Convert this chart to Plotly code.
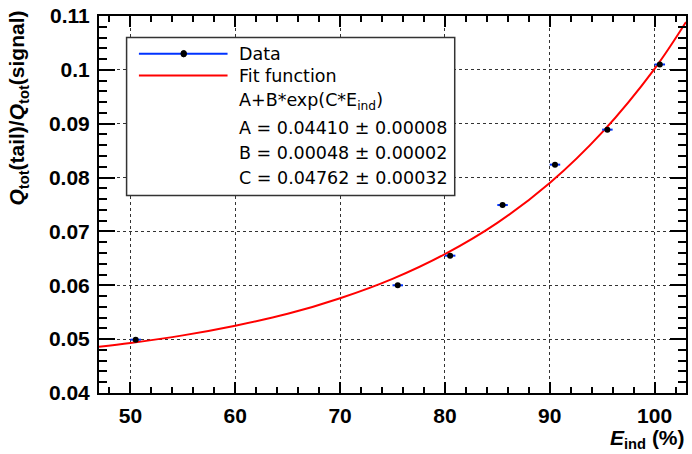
import plotly.graph_objects as go

# measured points
e_ind = [50.5, 75.5, 80.5, 85.5, 90.5, 95.5, 100.5]
ratio = [0.0499, 0.0600, 0.0655, 0.0749, 0.0824, 0.0889, 0.1010]
e_err = [0.5, 0.5, 0.5, 0.5, 0.5, 0.5, 0.5]
ratio_err = [0.0004, 0.0004, 0.0004, 0.0004, 0.0004, 0.0004, 0.0004]

# fit curve
fit_x = [47, 50, 55, 60, 65, 70, 75, 80, 85, 90, 95, 100, 103]
fit_y = [0.0486, 0.0493, 0.0507, 0.0525, 0.0547, 0.0576, 0.0612,
         0.0658, 0.0716, 0.0790, 0.0884, 0.1002, 0.1089]

legend_lines = [
    "A+B*exp(C*E<sub>ind</sub>)",
    "A = 0.04410 \u00b1 0.00008",
    "B = 0.00048 \u00b1 0.00002",
    "C = 0.04762 \u00b1 0.00032",
]

FONT = "Liberation Sans"
LEG_FONT = "DejaVu Sans"

fig = go.Figure()

fig.add_trace(go.Scatter(
    x=fit_x, y=fit_y, mode='lines', line=dict(color='#ff0000', width=2, shape='spline'),
    showlegend=False, hoverinfo='skip'))

fig.add_trace(go.Scatter(
    x=e_ind, y=ratio, mode='markers',
    marker=dict(color='black', size=6),
    error_x=dict(type='data', array=e_err, color='#0033ff', thickness=2, width=0),
    error_y=dict(type='data', array=ratio_err, color='black', thickness=2, width=0),
    showlegend=False))

# legend box drawn by hand (ROOT style)
fig.add_shape(type='rect', xref='paper', yref='paper', x0=0.047, x1=0.606, y0=0.524, y1=0.943,
              line=dict(color='#333333', width=1.5), fillcolor='white', layer='above')
fig.add_shape(type='line', xref='paper', yref='paper', x0=0.068, x1=0.219, y0=0.9, y1=0.9,
              line=dict(color='#0033ff', width=2), layer='above')
fig.add_shape(type='circle', xref='paper', yref='paper', x0=0.1395, x1=0.1491, y0=0.8915, y1=0.9085,
              line=dict(color='black', width=1), fillcolor='black', layer='above')
fig.add_shape(type='line', xref='paper', yref='paper', x0=0.068, x1=0.219, y0=0.842, y1=0.842,
              line=dict(color='#ff0000', width=2), layer='above')

rows_y = [0.9, 0.842, 0.774, 0.703, 0.637, 0.571]
for txt, yy in zip(["Data", "Fit function"] + legend_lines, rows_y):
    fig.add_annotation(x=0.2343, y=yy, xref='paper', yref='paper', text=txt, showarrow=False,
                       xanchor='left', yanchor='middle', font=dict(family=LEG_FONT, size=17.5, color='black'))

# axis titles
fig.add_annotation(x=-0.138, y=1.021, xref='paper', yref='paper', textangle=-90,
                   text="<b><i>Q</i><sub>tot</sub>(tail)/<i>Q</i><sub>tot</sub>(signal)</b>",
                   showarrow=False, xanchor='center', yanchor='top',
                   font=dict(family=FONT, size=21, color='black'))
fig.add_annotation(x=1.002, y=-0.121, xref='paper', yref='paper',
                   text="<b><i>E</i><sub>ind</sub> (%)</b>", showarrow=False,
                   xanchor='right', yanchor='middle', font=dict(family=FONT, size=21, color='black'))

axis_common = dict(
    showline=True, linecolor='black', linewidth=2, mirror='ticks',
    ticks='inside', tickcolor='black', tickwidth=2,
    showgrid=True, gridcolor='#333333', griddash='dot', gridwidth=1,
    zeroline=False,
    tickfont=dict(family=FONT, size=21, color='black', weight='bold'),
)

fig.update_xaxes(range=[47, 103], dtick=10, tick0=0, ticklen=11,
                 minor=dict(dtick=2, ticks='inside', ticklen=6, tickcolor='black', tickwidth=2, showgrid=False),
                 ticklabelstandoff=3, **axis_common)
fig.update_yaxes(range=[0.04, 0.11], dtick=0.01, tick0=0, ticklen=16, tickformat='~g',
                 minor=dict(dtick=0.002, ticks='inside', ticklen=8, tickcolor='black', tickwidth=2, showgrid=False),
                 ticklabelstandoff=3, **axis_common)

fig.update_layout(
    width=692, height=454,
    margin=dict(l=99, r=4, t=13, b=61),
    paper_bgcolor='white', plot_bgcolor='white',
    font=dict(family=FONT, color='black'),
    showlegend=False,
)

# drop the page's default body margin so the figure sits at the window corner
fig.write_html("out.html", config={'displayModeBar': False},
               post_script="document.body.style.margin='0';")
